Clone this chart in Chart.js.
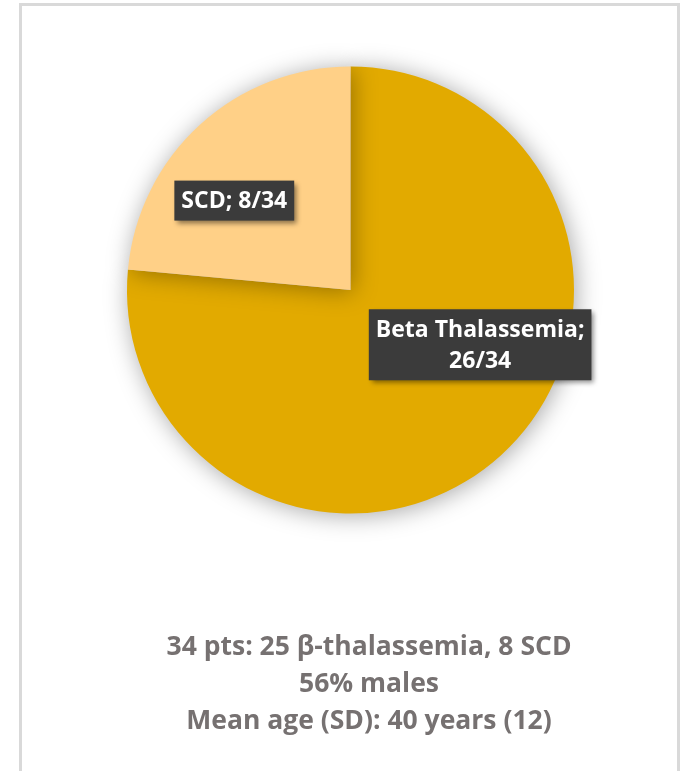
<!DOCTYPE html>
<html>
<head>
<meta charset="utf-8">
<script src="https://cdn.jsdelivr.net/npm/chart.js@4.4.0/dist/chart.umd.min.js"></script>
<style>
  html, body { margin: 0; padding: 0; background: #ffffff; width: 680px; height: 771px; overflow: hidden; }
  #frame { position: absolute; left: 19px; top: 3px; width: 655px; height: 800px; border: 3px solid #d9d9d9; border-bottom: none; }
  #wrap { position: absolute; left: 0; top: 0; width: 680px; height: 771px; }
  #notes { position: absolute; left: 70px; width: 598px; top: 627px; text-align: center;
           font-family: "Open Sans", "Noto Sans", sans-serif; font-weight: bold; font-size: 26.5px; line-height: 37px; color: #767171; }
</style>
</head>
<body>
<div id="frame"></div>
<div id="wrap"><canvas id="c" width="680" height="771"></canvas></div>
<div id="notes"></div>
<script>
const categories = ["Beta Thalassemia", "SCD"];
const counts = [26, 8];
const total = 34;
const sliceColors = ["#E2AA00", "#FFD087"];
const noteLines = ["34 pts: 25 \u03B2-thalassemia, 8 SCD", "56% males", "Mean age (SD): 40 years (12)"];

document.getElementById('notes').innerHTML = noteLines.map(l => '<div>' + l + '</div>').join('');

const shadowPlugin = {
  id: 'pieShadow',
  beforeDatasetsDraw(chart) {
    const ctx = chart.ctx;
    ctx.save();
    ctx.shadowColor = 'rgba(0,0,0,0.35)';
    ctx.shadowBlur = 24;
    ctx.shadowOffsetX = 2;
    ctx.shadowOffsetY = 2;
  },
  afterDatasetsDraw(chart) {
    chart.ctx.restore();
  }
};

// label placement as fractions of the pie radius from its centre
const labelPlacement = [ {fx: 0.58, fy: 0.245}, {fx: -0.52, fy: -0.40} ];

const labelPlugin = {
  id: 'boxLabels',
  afterDatasetsDraw(chart) {
    const ctx = chart.ctx;
    const meta = chart.getDatasetMeta(0);
    ctx.save();
    ctx.font = 'bold 23px "Open Sans", "Noto Sans", sans-serif';
    ctx.textAlign = 'center';
    ctx.textBaseline = 'middle';
    meta.data.forEach((arc, i) => {
      const p = arc.getProps(['x', 'y', 'outerRadius'], true);
      const cx = p.x + labelPlacement[i].fx * p.outerRadius;
      const cy = p.y + labelPlacement[i].fy * p.outerRadius;
      const text = categories[i] + '; ' + counts[i] + '/' + total;
      let lines = [text];
      const maxW = 230;
      if (ctx.measureText(text).width > maxW) {
        lines = [categories[i] + ';', counts[i] + '/' + total];
      }
      const lh = 31;
      const w = Math.max(...lines.map(l => ctx.measureText(l).width)) + 14;
      const h = lines.length * lh + 9;
      ctx.save();
      ctx.shadowColor = 'rgba(0,0,0,0.45)';
      ctx.shadowBlur = 5;
      ctx.shadowOffsetX = 3;
      ctx.shadowOffsetY = 3;
      ctx.fillStyle = '#3b3b3b';
      ctx.fillRect(cx - w / 2, cy - h / 2, w, h);
      ctx.restore();
      ctx.fillStyle = '#ffffff';
      lines.forEach((l, k) => {
        ctx.fillText(l, cx, cy - (lines.length - 1) * lh / 2 + k * lh + 1);
      });
    });
    ctx.restore();
  }
};

new Chart(document.getElementById('c'), {
  type: 'pie',
  data: {
    labels: categories,
    datasets: [{ data: counts, backgroundColor: sliceColors, borderWidth: 0 }]
  },
  options: {
    responsive: false,
    animation: false,
    layout: { padding: { left: 127, right: 106, top: 66, bottom: 257 } },
    plugins: { legend: { display: false }, tooltip: { enabled: false } }
  },
  plugins: [shadowPlugin, labelPlugin]
});
</script>
</body>
</html>
